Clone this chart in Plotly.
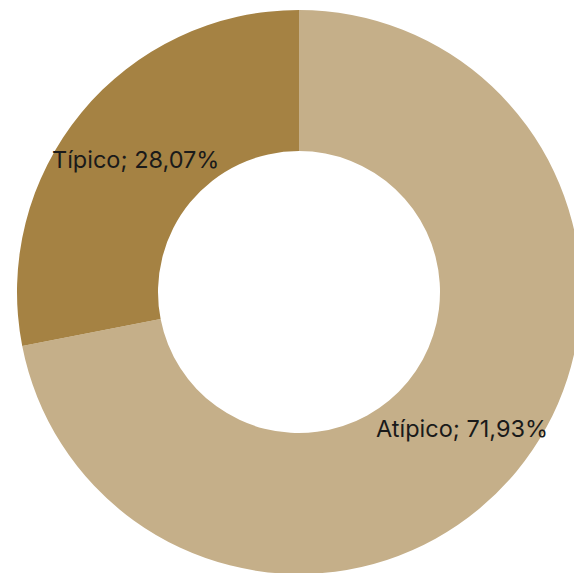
import math
import plotly.graph_objects as go

labels = ["Atípico", "Típico"]
values = [71.93, 28.07]
colors = ["#C5AF89", "#A58243"]

W, H = 598, 584
HOLE = 0.5
PAD = 10
fig = go.Figure(go.Pie(
    labels=labels,
    values=values,
    hole=HOLE,
    sort=False,
    direction="clockwise",
    rotation=0,
    marker=dict(colors=colors, line=dict(width=0)),
    textinfo="none",
    domain=dict(x=[0, 1], y=[PAD / H, 1 - PAD / H]),
    showlegend=False,
    hoverinfo="skip",
))

# Labels at the middle of each ring segment (derived from the values)
R = (H - 2 * PAD) / 2
r_mid = R * (1 + HOLE) / 2
total = sum(values)
start = 0.0
for lab, v in zip(labels, values):
    frac = v / total
    mid = (start + frac / 2) * 2 * math.pi  # clockwise from 12 o'clock
    start += frac
    xpx = W / 2 + r_mid * math.sin(mid)
    ypx = H / 2 - r_mid * math.cos(mid)
    txt = f"{lab}; {frac * 100:.2f}%".replace(".", ",")
    fig.add_annotation(
        x=xpx / W, y=1 - ypx / H, xref="paper", yref="paper",
        text=txt, showarrow=False, xanchor="center", yanchor="middle",
        yshift=-2,
        font=dict(family="Inter", size=23.5, color="#1a1a1a"),
    )

fig.update_layout(
    width=W, height=H, autosize=False,
    margin=dict(l=0, r=0, t=0, b=0),
    paper_bgcolor="white",
)
fig.write_html("out.html", post_script="document.documentElement.style.overflow='hidden';document.body.style.overflow='hidden';document.body.style.margin='0';")
